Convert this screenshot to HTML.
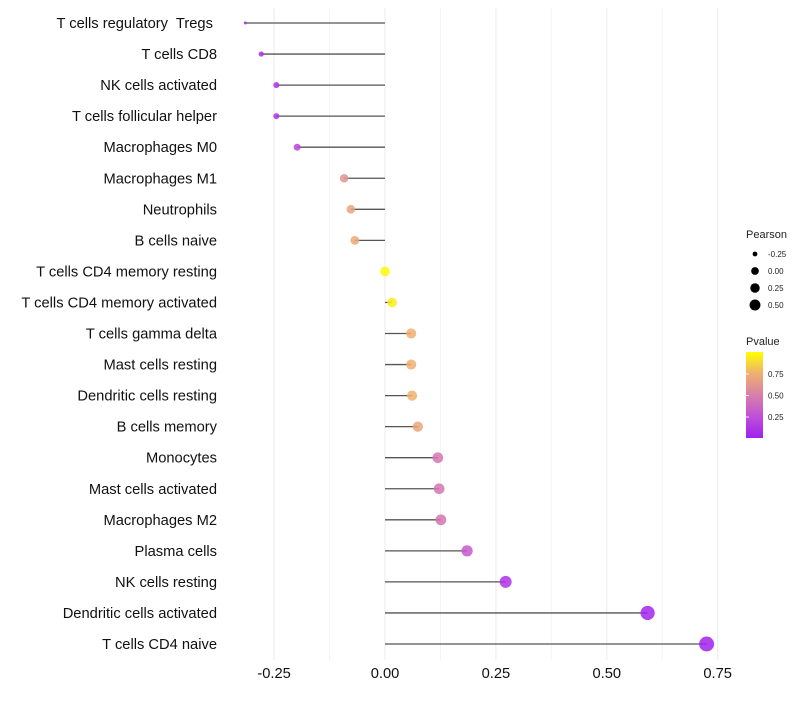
<!DOCTYPE html>
<html><head><meta charset="utf-8"><style>
body{margin:0;background:#fff;font-family:"Liberation Sans",sans-serif}
text{white-space:pre}
</style></head><body>
<svg id="c" width="800" height="700" xmlns="http://www.w3.org/2000/svg">
<defs><linearGradient id="pg" x1="0" y1="1" x2="0" y2="0">
<stop offset="0" stop-color="#a020f0"/><stop offset="0.25" stop-color="#c050d8"/><stop offset="0.5" stop-color="#d87fa8"/><stop offset="0.75" stop-color="#eeb070"/><stop offset="1" stop-color="#ffff00"/></linearGradient></defs>
</svg>
<script>
const categories=["T cells regulatory  Tregs ","T cells CD8","NK cells activated","T cells follicular helper","Macrophages M0","Macrophages M1","Neutrophils","B cells naive","T cells CD4 memory resting","T cells CD4 memory activated","T cells gamma delta","Mast cells resting","Dendritic cells resting","B cells memory","Monocytes","Mast cells activated","Macrophages M2","Plasma cells","NK cells resting","Dendritic cells activated","T cells CD4 naive"];
const pearson=[-0.315,-0.279,-0.245,-0.245,-0.198,-0.092,-0.077,-0.068,0.0,0.016,0.059,0.059,0.061,0.074,0.119,0.122,0.126,0.185,0.272,0.592,0.725];
const pvalue=[0.05,0.08,0.1,0.1,0.2,0.6,0.7,0.72,0.98,0.95,0.75,0.75,0.75,0.7,0.45,0.45,0.45,0.3,0.1,0.02,0.01];
const xTicks=[-0.25,0,0.25,0.5,0.75];
const xTickLabels=["-0.25","0.00","0.25","0.50","0.75"];
const sizeLegend=[-0.25,0,0.25,0.5];
const sizeLegendLabels=["-0.25","0.00","0.25","0.50"];
const colorLegend=[0.25,0.5,0.75];
const colorLegendLabels=["0.25","0.50","0.75"];
const svg=document.getElementById('c');const NS='http://www.w3.org/2000/svg';
const x=v=>385+v*443.6;
const y=i=>23+i*31.05;
const r=v=>1.5+6*Math.sqrt(Math.max(0,v+0.315)/1.04);
const stops=[[0,[160,32,240]],[0.25,[192,80,216]],[0.5,[216,127,168]],[0.75,[238,176,112]],[1,[255,255,0]]];
function col(p){for(let k=1;k<stops.length;k++){if(p<=stops[k][0]){const a=stops[k-1],b=stops[k],t=(p-a[0])/(b[0]-a[0]);return 'rgb('+a[1].map((c,j)=>Math.round(c+(b[1][j]-c)*t)).join(',')+')';}}return 'rgb(255,255,0)';}
function mk(t,attrs,txt){const e=document.createElementNS(NS,t);for(const k in attrs)e.setAttribute(k,attrs[k]);if(txt!==undefined)e.textContent=txt;svg.appendChild(e);return e;}
for(let k=0;k<xTicks.length;k++){
 const g=mk('line',{x1:x(xTicks[k]),x2:x(xTicks[k]),y1:8,y2:660,stroke:'#ebebeb','stroke-width':1});
 
 
 if(k<xTicks.length-1){const m=mk('line',{x1:x((xTicks[k]+xTicks[k+1])/2),x2:x((xTicks[k]+xTicks[k+1])/2),y1:8,y2:660,stroke:'#f4f4f4','stroke-width':1});
 
 }
 const t=mk('text',{x:x(xTicks[k]),y:678,'font-size':14.7,'text-anchor':'middle',fill:'#111'},xTickLabels[k]);
 
 
}
for(let i=0;i<categories.length;i++){
 const yy=y(i);
 const lab=mk('text',{x:217,y:yy+5,'font-size':14.7,'text-anchor':'end',fill:'#111'},categories[i]);
 
 
 const ln=mk('line',{x1:x(0),x2:x(pearson[i]),y1:yy,y2:yy,stroke:'#555','stroke-width':1.3});
 
 
 const c=mk('circle',{cx:x(pearson[i]),cy:yy,r:r(pearson[i]),fill:col(pvalue[i]),'fill-opacity':0.85});
 
 
}
const st=mk('text',{x:746,y:238,'font-size':11,fill:'#222'},'Pearson');


for(let k=0;k<sizeLegend.length;k++){
 const yy=254+k*17;
 const c=mk('circle',{cx:755,cy:yy,r:r(sizeLegend[k])*0.8,fill:'#000'});
 
 
 const t=mk('text',{x:768,y:yy+3,'font-size':8,fill:'#222'},sizeLegendLabels[k]);
 
 
}
const ct=mk('text',{x:746,y:345,'font-size':11,fill:'#222'},'Pvalue');


const bar=mk('rect',{x:746,y:352,width:17,height:86,fill:'url(#pg)'});


const cy=p=>438.5-p*86;
for(let k=0;k<colorLegend.length;k++){
 const t=mk('text',{x:768,y:cy(colorLegend[k])+3,'font-size':8,fill:'#222'},colorLegendLabels[k]);
 
 
 const tk=mk('line',{x1:746,x2:749,y1:cy(colorLegend[k]),y2:cy(colorLegend[k]),stroke:'#fff','stroke-width':0.8});
 
 
}
</script>
</body></html>
